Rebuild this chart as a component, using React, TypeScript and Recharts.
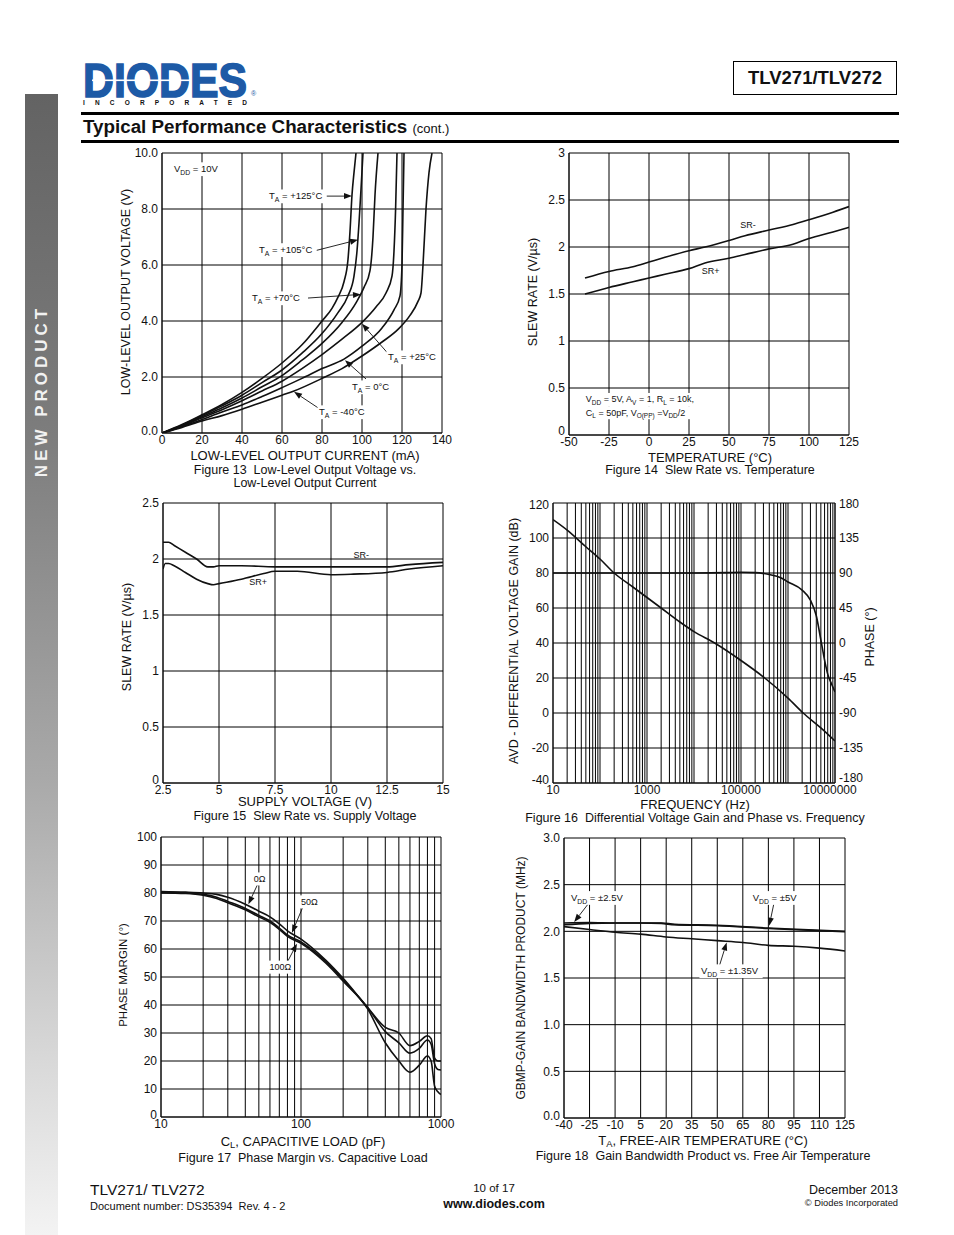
import React from 'react';
import { LineChart, Line, XAxis, YAxis, CartesianGrid, ReferenceDot, ReferenceLine } from 'recharts';

const FONT = '"Liberation Sans", Arial, Helvetica, sans-serif';
const INK = '#111';
const BLUE = '#1d5aa6';

type P = [number, number];
const pts = (a: P[]) => a.map(([x, y]) => ({ x, y }));

// ---- Figure 13: low-level output voltage vs current
const f13XTicks = [0, 20, 40, 60, 80, 100, 120, 140];
const f13YTicks = [0, 2, 4, 6, 8, 10];
const f13T125: P[] = [[0, 0], [10, 0.3], [20, 0.65], [30, 1.02], [40, 1.45], [50, 1.95], [60, 2.5], [70, 3.15], [80, 4.0], [85, 4.45], [88, 4.85], [91, 5.4], [93, 6.2], [94, 7.2], [95, 8.5], [96, 9.3], [97, 10]];
const f13T105: P[] = [[0, 0], [10, 0.28], [20, 0.62], [30, 0.97], [40, 1.35], [50, 1.8], [60, 2.25], [70, 2.85], [80, 3.55], [88, 4.3], [93, 4.9], [96, 5.6], [97.5, 6.5], [98.5, 7.5], [99.5, 8.7], [100.5, 10]];
const f13T70: P[] = [[0, 0], [10, 0.26], [20, 0.58], [30, 0.9], [40, 1.25], [50, 1.65], [60, 2.05], [70, 2.6], [80, 3.2], [90, 3.95], [97, 4.65], [101, 5.2], [104, 5.8], [105.5, 7], [106.5, 8.5], [108, 10]];
const f13T25: P[] = [[0, 0], [10, 0.24], [20, 0.54], [30, 0.83], [40, 1.15], [50, 1.5], [60, 1.85], [70, 2.3], [80, 2.8], [90, 3.35], [100, 3.95], [107, 4.5], [112, 5.0], [115, 5.6], [116, 6.5], [116.8, 8], [117.5, 10]];
const f13T0: P[] = [[0, 0], [10, 0.22], [20, 0.48], [30, 0.75], [40, 1.0], [50, 1.3], [60, 1.62], [70, 1.95], [80, 2.3], [91, 2.64], [100, 3.1], [110, 3.75], [116, 4.4], [119, 4.9], [120, 6], [120.5, 8], [121, 10]];
const f13Tm40: P[] = [[0, 0], [10, 0.2], [20, 0.43], [30, 0.62], [40, 0.85], [50, 1.1], [60, 1.35], [66, 1.5], [80, 1.95], [90, 2.3], [100, 2.75], [110, 3.25], [118, 3.7], [124, 4.2], [128, 4.7], [129.5, 5], [130.5, 6], [132, 8], [133.5, 9.3], [135, 10]];
const f13Series = [f13T125, f13T105, f13T70, f13T25, f13T0, f13Tm40];

// ---- Figure 14: slew rate vs temperature
const f14XTicks = [-50, -25, 0, 25, 50, 75, 100, 125];
const f14YTicks = [0, 0.5, 1, 1.5, 2, 2.5, 3];
const f14SRminus: P[] = [[-40, 1.67], [-25, 1.74], [-10, 1.79], [0, 1.84], [10, 1.89], [25, 1.96], [35, 2.0], [50, 2.07], [60, 2.12], [75, 2.18], [90, 2.24], [100, 2.29], [115, 2.37], [125, 2.43]];
const f14SRplus: P[] = [[-40, 1.5], [-25, 1.57], [-10, 1.63], [0, 1.67], [10, 1.71], [25, 1.77], [35, 1.83], [50, 1.88], [60, 1.92], [75, 1.98], [90, 2.03], [100, 2.09], [115, 2.16], [125, 2.21]];

// ---- Figure 15: slew rate vs supply voltage
const f15XTicks = [2.5, 5, 7.5, 10, 12.5, 15];
const f15YTicks = [0, 0.5, 1, 1.5, 2, 2.5];
const f15SRminus: P[] = [[2.5, 2.15], [2.75, 2.15], [3, 2.12], [3.5, 2.06], [4, 2.0], [4.5, 1.93], [4.75, 1.93], [5, 1.94], [6, 1.94], [7.5, 1.93], [10, 1.93], [12.5, 1.93], [13.5, 1.95], [15, 1.97]];
const f15SRplus: P[] = [[2.5, 1.91], [2.6, 1.96], [2.75, 1.96], [3, 1.94], [3.5, 1.88], [4, 1.82], [4.5, 1.78], [4.75, 1.77], [5, 1.78], [6, 1.82], [7, 1.87], [7.5, 1.89], [8.5, 1.89], [10, 1.86], [11, 1.865], [12.5, 1.88], [13.5, 1.91], [15, 1.94]];

// ---- Figure 16: gain and phase vs frequency
const f16Decades = [10, 100, 1000, 10000, 100000, 1000000];
const f16Steps = [1, 2, 3, 4, 5, 6, 7, 8, 9];
const f16GridTicks = [...f16Decades.flatMap((d) => f16Steps.map((m) => m * d)), 10000000];
const f16Labels = [10, 1000, 100000, 10000000];
const f16GainTicks = [-40, -20, 0, 20, 40, 60, 80, 100, 120];
const f16PhaseTicks = [-180, -135, -90, -45, 0, 45, 90, 135, 180];
const f16Gain: P[] = [[10, 110.5], [20, 104.5], [50, 95], [100, 88], [200, 80], [500, 72], [1000, 66], [2000, 60], [5000, 52], [10000, 46.5], [27500, 40], [100000, 30], [320000, 20], [1000000, 8.5], [2100000, 0], [5000000, -8.5], [10000000, -16]];
const f16Phase: P[] = [[10, 90], [1000, 90], [10000, 90], [50000, 90.5], [100000, 91], [200000, 90.5], [400000, 88], [700000, 84], [1000000, 78.5], [2000000, 68], [3000000, 55], [4000000, 35], [5000000, 4], [6000000, -22], [7000000, -40], [8500000, -53], [10000000, -63]];

// ---- Figure 17: phase margin vs capacitive load
const f17GridTicks = [10, 20, 30, 40, 50, 60, 70, 80, 90, 100, 200, 300, 400, 500, 600, 700, 800, 900, 1000];
const f17Labels = [10, 100, 1000];
const f17YTicks = [0, 10, 20, 30, 40, 50, 60, 70, 80, 90, 100];
const f17R0: P[] = [[10, 80.5], [15, 80.3], [20, 80], [25, 79.5], [30, 78.5], [40, 76], [50, 73.5], [60, 71.5], [70, 69], [80, 66.5], [100, 63.5], [150, 56], [200, 49.5], [300, 39], [400, 32], [500, 30], [600, 25.5], [700, 27], [800, 29], [850, 28], [900, 21], [950, 20], [1000, 20]];
const f17R50: P[] = [[10, 80.3], [15, 80], [20, 79.5], [25, 78.5], [30, 77], [40, 74.5], [50, 72], [60, 70], [70, 67.5], [80, 65], [100, 62.5], [150, 55.5], [200, 49], [300, 39], [400, 30.5], [500, 26.5], [600, 22.8], [700, 24.5], [800, 27.5], [850, 26], [900, 19], [950, 17], [1000, 16.8]];
const f17R100: P[] = [[10, 80], [15, 79.8], [20, 79.2], [25, 78], [30, 76.5], [40, 74], [50, 71.5], [60, 69.5], [70, 67], [80, 64.5], [100, 62], [150, 55], [200, 48.5], [300, 38.5], [400, 26.5], [500, 20], [600, 16], [700, 18.5], [800, 21.8], [850, 20], [900, 11], [950, 9], [1000, 8]];

// ---- Figure 18: GBW vs temperature
const f18XTicks = [-40, -25, -10, 5, 20, 35, 50, 65, 80, 95, 110, 125];
const f18YTicks = [0, 0.5, 1, 1.5, 2, 2.5, 3];
const f18V5: P[] = [[-40, 2.07], [-25, 2.085], [-10, 2.09], [5, 2.09], [17, 2.09], [25, 2.075], [50, 2.065], [80, 2.035], [100, 2.02], [125, 2.0]];
const f18V25: P[] = [[-40, 2.09], [-25, 2.095], [-10, 2.09], [5, 2.09], [17, 2.085], [25, 2.07], [50, 2.06], [80, 2.03], [100, 2.015], [125, 1.995]];
const f18V135: P[] = [[-40, 2.05], [-25, 2.02], [-10, 1.99], [5, 1.97], [20, 1.94], [35, 1.92], [50, 1.9], [65, 1.88], [80, 1.85], [95, 1.84], [110, 1.82], [125, 1.79]];

// plot frame offsets inside each chart svg
const T = 8, B = 24, L = 46, RM = 26;
const tickStyle = { fill: INK, fontSize: 12, fontFamily: FONT };
const common = { stroke: INK, tickLine: false, tickSize: 0, interval: 0 as const, tick: tickStyle, allowDataOverflow: true };
const xBase = { ...common, tickMargin: 2.5 };
const yBase = { ...common, tickMargin: 4 };
const pos = (px: number, py: number): React.CSSProperties => ({ position: 'absolute', left: px - L + 0.5, top: py - T + 0.5 });

// y tick that lifts the bottom label a little off the x labels
const yTick = (fmt: (v: number) => string = String, lift = 2.5) => (p: any) => {
  const v = p.payload.value;
  return <text x={p.x} y={p.y - (v === 0 ? lift : 0)} dy="0.355em" textAnchor="end" {...tickStyle}>{fmt(v)}</text>;
};
const one = (v: number) => v.toFixed(1);

const NOTE = 9.5;
function note(parts: string[], size = NOTE, bg = true) {
  return (p: any) => {
    const cx = p.cx, cy = p.cy;
    let w = 0;
    parts.forEach((s) => {
      const sub = s.startsWith('_');
      w += (sub ? s.length - 1 : s.length) * size * (sub ? 0.42 : 0.55);
    });
    let prevSub = false;
    return (
      <g>
        {bg && <rect x={cx - 1.5} y={cy - size * 0.7} width={w + 3} height={size * 1.45} fill="#fff" />}
        <text x={cx} y={cy + size * 0.35} fontSize={size} fontFamily={FONT} fill={INK}>
          {parts.map((s, i) => {
            const sub = s.startsWith('_');
            const dy = sub ? size * 0.3 : prevSub ? -size * 0.3 : 0;
            prevSub = sub;
            return (
              <tspan key={i} dy={dy} fontSize={sub ? size * 0.72 : size}>
                {sub ? s.slice(1) : s}
              </tspan>
            );
          })}
        </text>
      </g>
    );
  };
}

const arrow = (p: any) => {
  const { x1, y1, x2, y2 } = p;
  const a = Math.atan2(y2 - y1, x2 - x1);
  const len = 8, half = 3;
  const bx = x2 - len * Math.cos(a), by = y2 - len * Math.sin(a);
  const nx = -Math.sin(a) * half, ny = Math.cos(a) * half;
  return (
    <g>
      <line x1={x1} y1={y1} x2={bx} y2={by} stroke={INK} strokeWidth={0.9} />
      <polygon points={`${x2},${y2} ${bx + nx},${by + ny} ${bx - nx},${by - ny}`} fill={INK} />
    </g>
  );
};

// ticks for fig 16: the end labels sit a little inside the frame, as in the original
const gainTick = (p: any) => {
  const v = p.payload.value;
  const dy = v === -40 ? -3 : v === 120 ? 2 : 0;
  return <text x={p.x} y={p.y + dy} dy="0.355em" textAnchor="end" {...tickStyle}>{v}</text>;
};
const phaseTick = (p: any) => {
  const v = p.payload.value;
  const dy = v === -180 ? -5 : v === 180 ? 1 : 0;
  return <text x={p.x} y={p.y + dy} dy="0.355em" textAnchor="start" {...tickStyle}>{v}</text>;
};
const freqTick = (p: any) => {
  const v = p.payload.value;
  if (!f16Labels.includes(v)) return <g />;
  const dx = v === 10000000 ? -5 : 0;
  return <text x={p.x + dx} y={p.y} dy="0.71em" textAnchor="middle" {...tickStyle}>{v}</text>;
};

function Tx({ x, y, size = 12.5, weight = 400, rotate = false, align = 'center', color = INK, children, style }: any) {
  const tx = align === 'center' ? '-50%' : align === 'right' ? '-100%' : '0';
  return (
    <div
      style={{
        position: 'absolute', left: x, top: y, transform: `translate(${tx}, -50%)${rotate ? ' rotate(-90deg)' : ''}`,
        fontSize: size, fontWeight: weight, fontFamily: FONT, color, whiteSpace: 'pre', lineHeight: 1, ...style,
      }}
    >
      {children}
    </div>
  );
}
const Sub = ({ children }: any) => <sub style={{ fontSize: '0.72em', verticalAlign: '-0.3em', lineHeight: 0 }}>{children}</sub>;

const lineProps = { type: 'monotone' as const, dataKey: 'y', stroke: INK, strokeWidth: 1.6, dot: false, isAnimationActive: false };

function Fig13() {
  const w = 280, h = 280;
  return (
    <div style={pos(161, 152)}>
      <LineChart width={w + L + RM} height={h + T + B} margin={{ top: T, right: RM, left: 0, bottom: 0 }}>
        <CartesianGrid stroke="#000" strokeWidth={1} />
        <XAxis type="number" dataKey="x" domain={[0, 140]} ticks={f13XTicks} height={B} {...xBase} />
        <YAxis type="number" domain={[0, 10]} ticks={f13YTicks} width={L} {...yBase} tick={yTick(one)} />
        {f13Series.map((s, i) => <Line key={i} data={pts(s)} {...lineProps} />)}
        <ReferenceDot x={6} y={9.43} r={0} ifOverflow="visible" shape={note(['V', '_DD', ' = 10V'])} />
        <ReferenceDot x={53.5} y={8.46} r={0} ifOverflow="visible" shape={note(['T', '_A', ' = +125°C'])} />
        <ReferenceDot x={48.5} y={6.54} r={0} ifOverflow="visible" shape={note(['T', '_A', ' = +105°C'])} />
        <ReferenceDot x={45} y={4.82} r={0} ifOverflow="visible" shape={note(['T', '_A', ' = +70°C'])} />
        <ReferenceDot x={113} y={2.71} r={0} ifOverflow="visible" shape={note(['T', '_A', ' = +25°C'])} />
        <ReferenceDot x={95} y={1.64} r={0} ifOverflow="visible" shape={note(['T', '_A', ' = 0°C'])} />
        <ReferenceDot x={78.5} y={0.75} r={0} ifOverflow="visible" shape={note(['T', '_A', ' = -40°C'])} />
        <ReferenceLine segment={[{ x: 81.5, y: 8.46 }, { x: 95, y: 8.46 }]} ifOverflow="visible" shape={arrow} />
        <ReferenceLine segment={[{ x: 76, y: 6.5 }, { x: 98, y: 6.9 }]} ifOverflow="visible" shape={arrow} />
        <ReferenceLine segment={[{ x: 73, y: 4.82 }, { x: 99.5, y: 4.95 }]} ifOverflow="visible" shape={arrow} />
        <ReferenceLine segment={[{ x: 112.5, y: 2.88 }, { x: 100, y: 3.9 }]} ifOverflow="visible" shape={arrow} />
        <ReferenceLine segment={[{ x: 102, y: 1.93 }, { x: 91.5, y: 2.6 }]} ifOverflow="visible" shape={arrow} />
        <ReferenceLine segment={[{ x: 78, y: 0.9 }, { x: 66, y: 1.47 }]} ifOverflow="visible" shape={arrow} />
      </LineChart>
    </div>
  );
}

function Fig14() {
  const w = 280, h = 282;
  return (
    <div style={pos(568, 152)}>
      <LineChart width={w + L + RM} height={h + T + B} margin={{ top: T, right: RM, left: 0, bottom: 0 }}>
        <CartesianGrid stroke="#000" strokeWidth={1} />
        <XAxis type="number" dataKey="x" domain={[-50, 125]} ticks={f14XTicks} height={B} {...xBase} />
        <YAxis type="number" domain={[0, 3]} ticks={f14YTicks} width={L} {...yBase} tick={yTick(String, 4.5)} />
        <Line data={pts(f14SRminus)} {...lineProps} />
        <Line data={pts(f14SRplus)} {...lineProps} />
        <ReferenceDot x={57} y={2.24} r={0} ifOverflow="visible" shape={note(['SR-'], 9, false)} />
        <ReferenceDot x={33} y={1.75} r={0} ifOverflow="visible" shape={note(['SR+'], 9, false)} />
        <ReferenceDot x={-39.5} y={0.38} r={0} ifOverflow="visible" shape={note(['V', '_DD', ' = 5V, A', '_V', ' = 1, R', '_L', ' = 10k,'], 9)} />
        <ReferenceDot x={-39.5} y={0.24} r={0} ifOverflow="visible" shape={note(['C', '_L', ' = 50pF, V', '_O(PP)', ' =V', '_DD', '/2'], 9)} />
      </LineChart>
    </div>
  );
}

function Fig15() {
  const w = 280, h = 280;
  return (
    <div style={pos(162, 502)}>
      <LineChart width={w + L + RM} height={h + T + B} margin={{ top: T, right: RM, left: 0, bottom: 0 }}>
        <CartesianGrid stroke="#000" strokeWidth={1} />
        <XAxis type="number" dataKey="x" domain={[2.5, 15]} ticks={f15XTicks} height={B} {...xBase} />
        <YAxis type="number" domain={[0, 2.5]} ticks={f15YTicks} width={L} {...yBase} tick={yTick(String, 3)} />
        <Line data={pts(f15SRminus)} {...lineProps} />
        <Line data={pts(f15SRplus)} {...lineProps} />
        <ReferenceDot x={11.0} y={2.04} r={0} ifOverflow="visible" shape={note(['SR-'], 9, false)} />
        <ReferenceDot x={6.35} y={1.8} r={0} ifOverflow="visible" shape={note(['SR+'], 9, false)} />
      </LineChart>
    </div>
  );
}

function Fig16() {
  const w = 282, h = 280, R = 46;
  return (
    <div style={pos(552, 502)}>
      <LineChart width={w + L + R} height={h + T + B} margin={{ top: T, right: 0, left: 0, bottom: 0 }}>
        <CartesianGrid stroke="#000" strokeWidth={1} />
        <XAxis type="number" dataKey="x" scale="log" domain={[10, 10000000]} ticks={f16GridTicks} height={B} {...xBase} tick={freqTick} />
        <YAxis type="number" domain={[-40, 120]} ticks={f16GainTicks} width={L} {...yBase} tick={gainTick} />
        <YAxis yAxisId="r" orientation="right" type="number" domain={[-180, 180]} ticks={f16PhaseTicks} width={R} {...yBase} tick={phaseTick} />
        <Line data={pts(f16Gain)} {...lineProps} />
        <Line data={pts(f16Phase)} yAxisId="r" {...lineProps} />
      </LineChart>
    </div>
  );
}

function Fig17() {
  const w = 280, h = 280;
  return (
    <div style={pos(160, 836)}>
      <LineChart width={w + L + RM} height={h + T + B} margin={{ top: T, right: RM, left: 0, bottom: 0 }}>
        <CartesianGrid stroke="#000" strokeWidth={1} />
        <XAxis
          type="number" dataKey="x" scale="log" domain={[10, 1000]} ticks={f17GridTicks} height={B}
          tickFormatter={(v: number) => (f17Labels.includes(v) ? String(v) : '')} {...xBase}
        />
        <YAxis type="number" domain={[0, 100]} ticks={f17YTicks} width={L} {...yBase} tick={yTick()} />
        <Line data={pts(f17R0)} {...lineProps} />
        <Line data={pts(f17R50)} {...lineProps} />
        <Line data={pts(f17R100)} {...lineProps} />
        <ReferenceDot x={45.9} y={85.1} r={0} ifOverflow="visible" shape={note(['0Ω'], 9)} />
        <ReferenceDot x={100} y={76.9} r={0} ifOverflow="visible" shape={note(['50Ω'], 9)} />
        <ReferenceDot x={59.5} y={53.6} r={0} ifOverflow="visible" shape={note(['100Ω'], 9)} />
        <ReferenceLine segment={[{ x: 49, y: 83.1 }, { x: 42.1, y: 76 }]} ifOverflow="visible" shape={arrow} />
        <ReferenceLine segment={[{ x: 104.5, y: 75.7 }, { x: 86.2, y: 65.8 }]} ifOverflow="visible" shape={arrow} />
        <ReferenceLine segment={[{ x: 79.4, y: 55.1 }, { x: 93.6, y: 61.9 }]} ifOverflow="visible" shape={arrow} />
      </LineChart>
    </div>
  );
}

function Fig18() {
  const w = 281, h = 280;
  return (
    <div style={pos(563, 837)}>
      <LineChart width={w + L + RM} height={h + T + B} margin={{ top: T, right: RM, left: 0, bottom: 0 }}>
        <CartesianGrid stroke="#000" strokeWidth={1} />
        <XAxis type="number" dataKey="x" domain={[-40, 125]} ticks={f18XTicks} height={B} {...xBase} />
        <YAxis type="number" domain={[0, 3]} ticks={f18YTicks} width={L} {...yBase} tick={yTick(one)} />
        <Line data={pts(f18V5)} {...lineProps} />
        <Line data={pts(f18V25)} {...lineProps} />
        <Line data={pts(f18V135)} {...lineProps} />
        <ReferenceDot x={-35.9} y={2.36} r={0} ifOverflow="visible" shape={note(['V', '_DD', ' = ±2.5V'])} />
        <ReferenceDot x={70.8} y={2.36} r={0} ifOverflow="visible" shape={note(['V', '_DD', ' = ±5V'])} />
        <ReferenceDot x={40.4} y={1.575} r={0} ifOverflow="visible" shape={note(['V', '_DD', ' = ±1.35V'])} />
        <ReferenceLine segment={[{ x: -25.1, y: 2.31 }, { x: -34, y: 2.1 }]} ifOverflow="visible" shape={arrow} />
        <ReferenceLine segment={[{ x: 83.5, y: 2.32 }, { x: 80.5, y: 2.06 }]} ifOverflow="visible" shape={arrow} />
        <ReferenceLine segment={[{ x: 50.3, y: 1.575 }, { x: 55.5, y: 1.88 }]} ifOverflow="visible" shape={arrow} />
      </LineChart>
    </div>
  );
}

function Header() {
  return (
    <>
      <div
        style={{
          position: 'absolute', left: 25, top: 94, width: 33, height: 1141,
          background: 'linear-gradient(to bottom, #636363 0%, #7d7d7d 30%, #a9a9a9 60%, #d9d9d9 85%, #f3f3f3 100%)',
        }}
      />
      <Tx x={41} y={391} size={17} weight={700} rotate color="#f2f2f2" style={{ letterSpacing: 4 }}>NEW PRODUCT</Tx>
      <svg width={200} height={56} style={{ position: 'absolute', left: 80, top: 56 }}>
        <text x={3} y={41} fontFamily={FONT} fontWeight={700} fontSize={49} fill={BLUE} stroke={BLUE} strokeWidth={1.6} textLength={164} lengthAdjust="spacingAndGlyphs">DIODES</text>
        <rect x={12} y={23.5} width={98} height={1.6} fill="#fff" />
        <text x={171} y={40} fontFamily={FONT} fontSize={7} fill={BLUE}>®</text>
        <text x={3} y={49} fontFamily={FONT} fontWeight={700} fontSize={6.5} fill={INK} textLength={164} lengthAdjust="spacing">INCORPORATED</text>
      </svg>
      <div
        style={{
          position: 'absolute', left: 733, top: 61, width: 164, height: 34, boxSizing: 'border-box', border: '1.5px solid #000',
          display: 'flex', alignItems: 'center', justifyContent: 'center', fontFamily: FONT, fontWeight: 700, fontSize: 18.5,
        }}
      >
        TLV271/TLV272
      </div>
      <div style={{ position: 'absolute', left: 81, top: 112, width: 818, height: 2.5, background: '#000' }} />
      <Tx x={83} y={127} size={18.8} weight={700} align="left">
        Typical Performance Characteristics <span style={{ fontSize: 13, fontWeight: 400 }}>(cont.)</span>
      </Tx>
      <div style={{ position: 'absolute', left: 81, top: 140, width: 818, height: 2.5, background: '#000' }} />
    </>
  );
}

function Titles() {
  return (
    <>
      {/* fig 13 */}
      <Tx x={126} y={292} rotate>LOW-LEVEL OUTPUT VOLTAGE (V)</Tx>
      <Tx x={305} y={455} size={13}>LOW-LEVEL OUTPUT CURRENT (mA)</Tx>
      <Tx x={305} y={470}>Figure 13  Low-Level Output Voltage vs.</Tx>
      <Tx x={305} y={483}>Low-Level Output Current</Tx>
      {/* fig 14 */}
      <Tx x={533} y={292} rotate>SLEW RATE (V/µs)</Tx>
      <Tx x={710} y={457} size={13}>TEMPERATURE (°C)</Tx>
      <Tx x={710} y={470}>Figure 14  Slew Rate vs. Temperature</Tx>
      {/* fig 15 */}
      <Tx x={127} y={637} rotate>SLEW RATE (V/µs)</Tx>
      <Tx x={305} y={801} size={13}>SUPPLY VOLTAGE (V)</Tx>
      <Tx x={305} y={816}>Figure 15  Slew Rate vs. Supply Voltage</Tx>
      {/* fig 16 */}
      <Tx x={514} y={641} rotate>AVD - DIFFERENTIAL VOLTAGE GAIN (dB)</Tx>
      <Tx x={870} y={637} rotate>PHASE (°)</Tx>
      <Tx x={695} y={804} size={13}>FREQUENCY (Hz)</Tx>
      <Tx x={695} y={818}>Figure 16  Differential Voltage Gain and Phase vs. Frequency</Tx>
      {/* fig 17 */}
      <Tx x={124} y={975} size={11.5} rotate>PHASE MARGIN (°)</Tx>
      <Tx x={303} y={1141} size={13}>C<Sub>L</Sub>, CAPACITIVE LOAD (pF)</Tx>
      <Tx x={303} y={1158}>Figure 17  Phase Margin vs. Capacitive Load</Tx>
      {/* fig 18 */}
      <Tx x={521} y={978} size={12} rotate>GBMP-GAIN BANDWIDTH PRODUCT (MHz)</Tx>
      <Tx x={703} y={1140} size={13}>T<Sub>A</Sub>, FREE-AIR TEMPERATURE (°C)</Tx>
      <Tx x={703} y={1156}>Figure 18  Gain Bandwidth Product vs. Free Air Temperature</Tx>
    </>
  );
}

function Footer() {
  return (
    <>
      <Tx x={90} y={1190} size={15.5} align="left">TLV271/ TLV272</Tx>
      <Tx x={90} y={1206} size={11} align="left">Document number: DS35394  Rev. 4 - 2</Tx>
      <Tx x={494} y={1189} size={11.5}>10 of 17</Tx>
      <Tx x={494} y={1204} size={12.5} weight={700}>www.diodes.com</Tx>
      <Tx x={898} y={1190} size={12.5} align="right">December 2013</Tx>
      <Tx x={898} y={1204} size={9.3} align="right">© Diodes Incorporated</Tx>
    </>
  );
}

export default function App() {
  return (
    <div
      style={{
        position: 'absolute', left: 0, top: 0, width: 954, height: 1235, background: '#fff', overflow: 'hidden',
        fontFamily: FONT, color: INK,
      }}
    >
      <Header />
      <Fig13 />
      <Fig14 />
      <Fig15 />
      <Fig16 />
      <Fig17 />
      <Fig18 />
      <Titles />
      <Footer />
    </div>
  );
}
